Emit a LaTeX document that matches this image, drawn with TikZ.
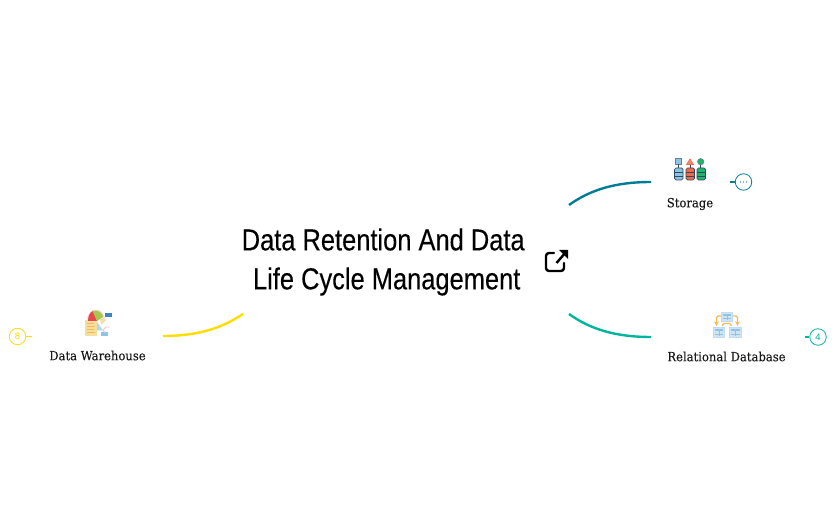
\documentclass[tikz,border=0pt]{standalone}
\usepackage{fontspec}
\setmainfont{DejaVu Serif}
\newfontfamily\titlefont[FakeStretch=0.84,FakeBold=0.25]{Liberation Sans}
\newfontfamily\labelfont[FakeStretch=0.92,FakeBold=0.1]{DejaVu Serif}
\newfontfamily\badgefont{Liberation Sans}
\definecolor{storagecolor}{HTML}{007C96}
\definecolor{relationalcolor}{HTML}{00B5A0}
\definecolor{warehousecolor}{HTML}{FFDD00}
\definecolor{iconblue}{HTML}{8CC4E8}
\definecolor{iconred}{HTML}{EE6A4A}
\definecolor{icongreen}{HTML}{1DB56C}
\definecolor{icondark}{HTML}{33475B}
\definecolor{iconorange}{HTML}{F9B858}
\definecolor{iconpale}{HTML}{CFE3F2}
\definecolor{iconpaper}{HTML}{F5DF9E}
\definecolor{iconpie}{HTML}{E5484D}
\definecolor{iconlime}{HTML}{A5C84E}
\definecolor{iconbox}{HTML}{3D85C0}
\definecolor{iconpink}{HTML}{F6BFC4}
\tikzset{
	branch/.style={line width=2.4pt},
	badge/.style={circle,draw,line width=0.8pt,minimum size=16.5pt,inner sep=0pt,font=\badgefont\fontsize{9.5}{9.5}\selectfont},
	leaflabel/.style={font=\labelfont\fontsize{12.6}{14}\selectfont,text=black!90,inner sep=0pt},
	tablebox/.style={fill=iconpale,draw=iconpale!80!iconblue,line width=0.7pt}
}
\begin{document}
\begin{tikzpicture}[x=1pt,y=-1pt]
	\useasboundingbox (0,0) rectangle (836,518);
	\node[align=center,inner sep=0pt,font=\titlefont\fontsize{30.3}{39}\selectfont] (title) at (383.2,262) {Data Retention And Data\\ \hspace*{7pt}Life Cycle Management};
	\coordinate (storagestart) at (569,205);
	\coordinate (storageend) at (651,182);
	\coordinate (relationalstart) at (569,314);
	\coordinate (relationalend) at (651,337);
	\coordinate (warehousestart) at (243,314);
	\coordinate (warehouseend) at (163,336);
	\draw[branch,storagecolor] (storagestart) .. controls (590,190) and (615,182) .. (storageend);
	\draw[branch,relationalcolor] (relationalstart) .. controls (590,329) and (615,337) .. (relationalend);
	\draw[branch,warehousecolor] (warehousestart) .. controls (222,328) and (198,336) .. (warehouseend);
	\node[leaflabel] (storage) at (690,204) {Storage};
	\node[leaflabel] (relational) at (726.5,356.5) {Relational Database};
	\node[leaflabel] (warehouse) at (97.5,355.5) {Data Warehouse};
	\coordinate (storagestub) at (730,182);
	\coordinate (relationalstub) at (805,337);
	\coordinate (warehousestub) at (32,336.5);
	\node[badge,draw=storagecolor,text=storagecolor] (storagebadge) at (743.5,182) {};
	\node[badge,draw=relationalcolor,text=relationalcolor] (relationalbadge) at (818,337) {4};
	\node[badge,draw=warehousecolor,text=warehousecolor] (warehousebadge) at (17.5,336.5) {8};
	\foreach \dotx in {-3,0,3}{
		\fill[storagecolor] ([xshift=\dotx pt]storagebadge.center) circle (0.7);
	}
	\draw[storagecolor,line width=1.5pt] (storagestub)--(storagebadge);
	\draw[relationalcolor,line width=1.5pt] (relationalstub)--(relationalbadge);
	\draw[warehousecolor,line width=1.5pt] (warehousestub)--(warehousebadge);
	% external link icon
	\draw[line width=2.4pt,line cap=round,line join=round] (554,253)--(549,253) arc (-90:-180:3) -- (546,268) arc (180:90:3) -- (561,271) arc (90:0:3) -- (564,263);
	\draw[line width=2.4pt] (556.5,263)--(566,252);
	\fill (559,250) -- (568,250) -- (568,259) -- cycle;
	% storage icon
	\draw[fill=iconblue,draw=icondark!70,line width=0.6pt] (675.5,158.5) rectangle (681.5,164.5);
	\draw[fill=iconred!80,draw=iconred,line width=0.6pt] (686.5,164.5) -- (690,159) -- (693.5,164.5) -- cycle;
	\draw[fill=icongreen,draw=icondark!70,line width=0.6pt] (700.7,161.7) circle (3.2);
	\draw[icondark,line width=0.6pt] (678.5,164.5)--(678.5,168) (690,165)--(690,168) (700.7,165)--(700.7,168);
	\foreach \cylx/\cylcolor in {674.5/iconblue,686/iconred,697/icongreen}{
		\draw[fill=\cylcolor,draw=icondark,line width=0.7pt,rounded corners=1.5pt] (\cylx,168) rectangle ++(8.5,12);
		\draw[icondark,line width=0.6pt] (\cylx,172)--++(8.5,0) (\cylx,176)--++(8.5,0);
	}
	% relational icon
	\draw[tablebox] (721.5,312.5) rectangle (732,321);
	\draw[tablebox] (713.5,327) rectangle (724,337);
	\draw[tablebox] (729.5,327) rectangle (741,337);
	\fill[iconblue] (722.5,314) rectangle (731,316.5);
	\fill[iconblue] (714.5,329) rectangle (723,331);
	\fill[iconblue] (730.5,329) rectangle (740,331);
	\draw[iconblue,line width=0.4pt] (722.5,318.5)--(731,318.5) (726.7,316)--(726.7,320.5) (714.5,334)--(723,334) (718.7,331)--(718.7,336) (730.5,334)--(740,334) (735,331)--(735,336);
	\draw[iconorange,line width=1.1pt,rounded corners=1.5pt,-stealth] (721,316)--(716.5,316)--(716.5,326);
	\draw[iconorange,line width=1.1pt,rounded corners=1.5pt,-stealth] (733,316)--(737.5,316)--(737.5,326);
	\draw[iconorange,line width=1.1pt,rounded corners=1.5pt] (722.5,326)--(722.5,323.5)--(731,323.5)--(731,326);
	% warehouse icon
	\fill[iconpaper] (84.5,320) rectangle (96.5,336.5);
	\draw[iconorange,line width=0.4pt] (86.5,323)--(94,323) (86.5,326)--(95,326) (86.5,329)--(94,329) (86.5,332)--(95,332);
	\fill[iconpink!60] (87,321) .. controls (87,314) and (91,309.5) .. (96,309.5) .. controls (100,309.5) and (103,312) .. (104,316) -- (96,321) -- cycle;
	\fill[iconpie] (97,321) -- (88,321) .. controls (88,316) and (90,312) .. (93,311) -- cycle;
	\fill[iconlime] (97,321) -- (92.5,311) .. controls (97,309.5) and (102,312) .. (103.5,317) -- cycle;
	\fill[iconbox] (105,313) rectangle (111.5,317.5);
	\fill[iconblue!70] (97,322) -- (103,330.5) -- (97,330.5) -- cycle;
	\fill[iconblue] (100.5,332) rectangle (107.5,336);
	\fill[iconpaper] (100,319.5) -- (106.5,319.5) -- (101.5,325) -- cycle;
	\draw[iconpink,line width=0.8pt] (105,317.5)--(101,320) (103,330)--(106,327)--(110,327) (103,330.5)--(105,332.5);
\end{tikzpicture}
\end{document}
